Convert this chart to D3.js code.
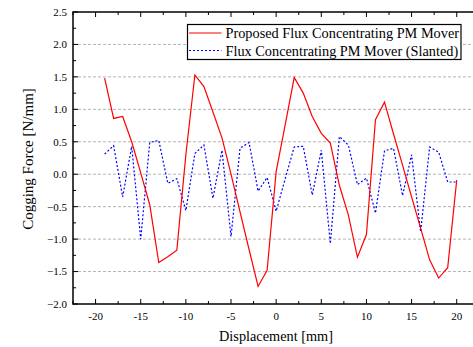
<!DOCTYPE html>
<html>
<head>
<meta charset="utf-8">
<script src="https://cdn.jsdelivr.net/npm/d3@7/dist/d3.min.js"></script>
<style>
  html, body { margin: 0; padding: 0; background: #fff; }
  svg { display: block; font-family: "Liberation Serif", "Times New Roman", serif; }
</style>
</head>
<body>
<svg id="chart" width="473" height="347"></svg>
<script>
// Displacement positions [mm]
const displacement = [-19,-18,-17,-16,-15,-14,-13,-12,-11,-10,-9,-8,-7,-6,-5,-4,-3,-2,-1,0,
                      1,2,3,4,5,6,7,8,9,10,11,12,13,14,15,16,17,18,19,20];
// Cogging force [N/mm], proposed mover
const proposedForce = [1.48,0.86,0.89,0.50,0.02,-0.47,-1.36,-1.27,-1.17,0.30,1.53,1.35,0.96,0.56,0.00,-0.58,-1.16,-1.73,-1.48,0.04,
                       0.76,1.49,1.25,0.89,0.63,0.48,-0.17,-0.63,-1.28,-0.93,0.84,1.11,0.62,0.14,-0.35,-0.83,-1.32,-1.60,-1.44,-0.09];
// Cogging force [N/mm], slanted mover
const slantedForce = [0.31,0.44,-0.35,0.43,-1.00,0.49,0.52,-0.14,-0.07,-0.56,0.32,0.45,-0.37,0.37,-0.96,0.40,0.49,-0.26,-0.05,-0.57,
                      -0.07,0.42,0.43,-0.32,0.37,-1.07,0.58,0.45,-0.16,-0.06,-0.60,0.36,0.40,-0.33,0.30,-0.89,0.42,0.34,-0.12,-0.12];
const seriesNames = ["Proposed Flux Concentrating PM Mover", "Flux Concentrating PM Mover (Slanted)"];
const xTicks = [-20,-15,-10,-5,0,5,10,15,20];
const yTicks = [-2.0,-1.5,-1.0,-0.5,0.0,0.5,1.0,1.5,2.0,2.5];
const gridValues = [-1.5,-1.0,-0.5,0.0,0.5,1.0,1.5,2.0];

const svg = d3.select("#chart");
const plotL = 73, plotR = 479.3, plotT = 12, plotB = 304;

const x = d3.scaleLinear().domain([-22.5, 22.5]).range([plotL, plotR]);
const y = d3.scaleLinear().domain([-2.0, 2.5]).range([plotB, plotT]);

// horizontal grid
svg.append("g").selectAll("line").data(gridValues).join("line")
  .attr("x1", plotL).attr("x2", plotR)
  .attr("y1", d => y(d)).attr("y2", d => y(d))
  .attr("stroke", "#b4b4b4").attr("stroke-width", 1)
  .attr("stroke-dasharray", "3,2");

// series
const line = (vals) => d3.line()
  .x((d, i) => x(displacement[i]))
  .y(d => y(d))(vals);

svg.append("path").attr("d", line(slantedForce))
  .attr("fill", "none").attr("stroke", "#0000ff").attr("stroke-width", 1.2)
  .attr("stroke-dasharray", "2,2");
svg.append("path").attr("d", line(proposedForce))
  .attr("fill", "none").attr("stroke", "#ff0000").attr("stroke-width", 1.2);

// axes with inward ticks
const minorX = d3.range(-22.5, 22.6, 2.5).filter(v => Math.abs(v % 5) > 0.01);
const minorY = d3.range(-1.75, 2.5, 0.5);

const axisG = svg.append("g").attr("stroke", "#000");
function tick(x1, y1, x2, y2) {
  axisG.append("line").attr("x1", x1).attr("y1", y1).attr("x2", x2).attr("y2", y2).attr("stroke-width", 1);
}
xTicks.forEach(v => { tick(x(v), plotB, x(v), plotB - 5); tick(x(v), plotT, x(v), plotT + 5); });
minorX.forEach(v => { tick(x(v), plotB, x(v), plotB - 3); tick(x(v), plotT, x(v), plotT + 3); });
yTicks.forEach(v => tick(plotL, y(v), plotL + 5, y(v)));
minorY.forEach(v => tick(plotL, y(v), plotL + 3, y(v)));

axisG.append("line").attr("x1", plotL).attr("x2", plotR).attr("y1", plotB).attr("y2", plotB).attr("stroke-width", 1.5);
axisG.append("line").attr("x1", plotL).attr("x2", plotR).attr("y1", plotT).attr("y2", plotT).attr("stroke-width", 1.5);
axisG.append("line").attr("x1", plotL).attr("x2", plotL).attr("y1", plotT - 0.75).attr("y2", plotB + 0.75).attr("stroke-width", 1.5);

// tick labels
svg.append("g").selectAll("text").data(yTicks).join("text")
  .attr("x", plotL - 6).attr("y", d => y(d)).attr("dy", "0.35em")
  .attr("text-anchor", "end").attr("font-size", 11).attr("fill", "#000")
  .text(d => d3.format(".1f")(d));
svg.append("g").selectAll("text").data(xTicks).join("text")
  .attr("x", d => x(d)).attr("y", plotB + 16)
  .attr("text-anchor", "middle").attr("font-size", 11).attr("fill", "#000")
  .text(d => d);

// axis titles
svg.append("text").attr("x", 276).attr("y", 341)
  .attr("text-anchor", "middle").attr("font-size", 14.3).attr("fill", "#000")
  .text("Displacement [mm]");
svg.append("text").attr("transform", "translate(33,159) rotate(-90)")
  .attr("text-anchor", "middle").attr("font-size", 15).attr("fill", "#000")
  .text("Cogging Force [N/mm]");

// legend
const lg = svg.append("g");
lg.append("rect").attr("x", 187.5).attr("y", 24.5).attr("width", 273.5).attr("height", 35)
  .attr("fill", "#fff").attr("stroke", "#000").attr("stroke-width", 1.2);
const legendRows = [
  { name: seriesNames[0], color: "#ff0000", dash: null, yy: 33 },
  { name: seriesNames[1], color: "#0000ff", dash: "2,2", yy: 50.5 }
];
legendRows.forEach(r => {
  lg.append("line").attr("x1", 189).attr("x2", 221.5).attr("y1", r.yy).attr("y2", r.yy)
    .attr("stroke", r.color).attr("stroke-width", 1.2).attr("stroke-dasharray", r.dash);
  lg.append("text").attr("x", 225.5).attr("y", r.yy).attr("dy", "0.35em")
    .attr("font-size", 14.3).attr("fill", "#000").text(r.name);
});
</script>
</body>
</html>
